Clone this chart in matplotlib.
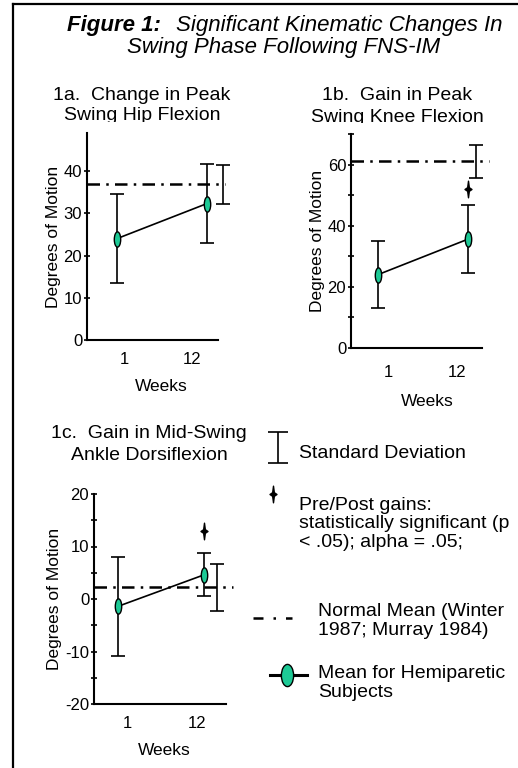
import matplotlib
matplotlib.use("Agg")
import matplotlib.pyplot as plt
from matplotlib.lines import Line2D
from matplotlib.path import Path
from matplotlib.transforms import Affine2D, Bbox, TransformedBbox

plt.rcParams['font.family'] = ['Liberation Sans', 'DejaVu Sans']

# 数据
weeks = ["1", "12"]

hip_mean = [24.0, 32.3]
hip_sd = [10.5, 9.3]
hip_normal = 36.9
hip_normal_sd = 4.6
hip_sig = None

knee_mean = [24.0, 35.6]
knee_sd = [11.0, 11.2]
knee_normal = 61.1
knee_normal_sd = 5.35
knee_sig = 52.0

ankle_mean = [-1.4, 4.6]
ankle_sd = [9.4, 4.1]
ankle_normal = 2.2
ankle_normal_sd = 4.4
ankle_sig = 12.9

W, H = 518, 768
fig = plt.figure(figsize=(W / 100, H / 100), dpi=100)

GREEN = '#1DC995'
DASHDOT = (0, (5, 2.5, 1, 2.5))
ellipse = Path.unit_circle().transformed(Affine2D().scale(0.42, 1.0))
ellipse_big = Path.unit_circle().transformed(Affine2D().scale(0.55, 1.0))
star = Path([(0, 1), (0.1, 0.22), (0.42, 0), (0.1, -0.22), (0, -1),
             (-0.1, -0.22), (-0.42, 0), (-0.1, 0.22), (0, 1)],
            [Path.MOVETO] + [Path.LINETO] * 7 + [Path.CLOSEPOLY])


def px_axes(l, t, r, b):
    return fig.add_axes([l / W, 1 - b / H, (r - l) / W, (b - t) / H])


def panel(ax, mean, sd, normal, normal_sd, sig, ylim, ticks, labels, minor,
          xlim, tickpos, sdpos):
    x = [0, 1]
    ax.plot(x, mean, color='black', lw=1.2, zorder=3)
    ax.errorbar(x, mean, yerr=sd, fmt='none', ecolor='black', elinewidth=1.2,
                capsize=5, capthick=1.2, zorder=2, clip_on=False)
    ax.plot(x, mean, ls='none', marker=ellipse, ms=11, mfc=GREEN, mec='black',
            mew=1.0, zorder=4, clip_on=False)
    ax.axhline(normal, xmin=0, xmax=1.05, color='black', lw=1.8,
               ls=DASHDOT, clip_on=False, zorder=1)
    ax.errorbar([sdpos], [normal], yerr=[normal_sd], fmt='none', ecolor='black',
                elinewidth=1.2, capsize=5, capthick=1.2, clip_on=False)
    if sig is not None:
        ax.plot([1], [sig], ls='none', marker=star, ms=12, color='black',
                clip_on=False)
    ax.set_xlim(*xlim)
    ax.set_ylim(*ylim)
    ax.set_xticks(tickpos)
    ax.set_xticklabels(weeks)
    ax.set_yticks(ticks)
    ax.set_yticklabels(labels)
    if minor:
        ax.set_yticks(minor, minor=True)
    for s in ['top', 'right']:
        ax.spines[s].set_visible(False)
    ax.spines['left'].set_linewidth(1.5)
    ax.spines['bottom'].set_linewidth(1.5)
    ax.tick_params(axis='x', length=0, labelsize=12, pad=9)
    ax.tick_params(axis='y', which='both', direction='inout', length=5,
                   width=1.2, labelsize=12, pad=1)
    ax.set_ylabel('Degrees of Motion', fontsize=12.5, labelpad=2)
    ax.set_xlabel('Weeks', fontsize=12.5, labelpad=8)


# 1a
ax1 = px_axes(87, 133, 218, 340)
panel(ax1, hip_mean, hip_sd, hip_normal, hip_normal_sd, hip_sig,
      (0, 49), [0, 10, 20, 30, 40], ['0', '10', '20', '30', '40'], None,
      (-0.333, 1.122), [0.08, 0.83], 1.178)
ax1.xaxis.label.set_position((0.57, 0))

# 1b
ax2 = px_axes(351, 134, 482, 348)
panel(ax2, knee_mean, knee_sd, knee_normal, knee_normal_sd, knee_sig,
      (0, 70), [0, 20, 40, 60], ['0', '20', '40', '60'], [10, 30, 50, 70],
      (-0.3, 1.156), [0.11, 0.88], 1.089)
ax2.tick_params(axis='x', pad=12.5)
ax2.xaxis.labelpad = 9.5
ax2.xaxis.label.set_position((0.58, 0))

# 1c
ax3 = px_axes(94, 494, 226, 704)
panel(ax3, ankle_mean, ankle_sd, ankle_normal, ankle_normal_sd, ankle_sig,
      (-20, 20), [-20, -10, 0, 10, 20], ['-20', '-10', '0', '10', '20'],
      [-15, -5, 5, 15], (-0.279, 1.256), [0.105, 0.919], 1.151)
ax3.xaxis.label.set_position((0.53, 0))

# 标题
t1 = fig.text(67 / W, 1 - 25 / H, 'Figure 1:', fontsize=16, fontweight='bold',
              style='italic', ha='left', va='center')
fig.canvas.draw()
x_end = t1.get_window_extent().x1
fig.text((x_end + 15) / W, 1 - 25 / H, 'Significant Kinematic Changes In',
         fontsize=16, style='italic', ha='left', va='center')
fig.text(284 / W, 1 - 48 / H, 'Swing Phase Following FNS-IM', fontsize=16,
         style='italic', ha='center', va='center')


def sub(x, y1, y2, a, b, clip=None):
    fig.text(x / W, 1 - y1 / H, a, fontsize=14, ha='center', va='center')
    t = fig.text(x / W, 1 - y2 / H, b, fontsize=14, ha='center', va='center')
    if clip:
        t.set_clip_on(True)
        t.set_clip_box(TransformedBbox(Bbox.from_extents(0, 1 - clip / H, 1, 1),
                                       fig.transFigure))


sub(142, 95, 116, '1a.  Change in Peak', 'Swing Hip Flexion', clip=122)
sub(397, 95, 117, '1b.  Gain in Peak', 'Swing Knee Flexion', clip=123)
sub(149, 433, 455, '1c.  Gain in Mid-Swing', 'Ankle Dorsiflexion')

# 图例（像素坐标）
lg = fig.add_axes([0, 0, 1, 1])
lg.set_xlim(0, W)
lg.set_ylim(H, 0)
lg.axis('off')
lg.errorbar([278], [447.5], yerr=[15.5], fmt='none', ecolor='black',
            elinewidth=1.2, capsize=7, capthick=1.2)
lg.text(299, 454, 'Standard Deviation', fontsize=14, va='center')
lg.plot([273], [494], marker=star, ms=12, color='black', ls='none')
lg.text(299, 524, 'Pre/Post gains:\nstatistically significant (p\n< .05); alpha = .05;',
        fontsize=14, va='center', linespacing=1.1)
lg.plot([253, 292], [618, 618], color='black', lw=1.8, ls=(0, (4, 4, 1, 4)))
lg.text(318, 621, 'Normal Mean (Winter\n1987; Murray 1984)', fontsize=14,
        va='center', linespacing=1.1)
lg.plot([270, 307], [675, 675], color='black', lw=2.2)
lg.plot([287], [675], marker=ellipse_big, ms=16, mfc=GREEN, mec='black',
        mew=1.0, ls='none')
lg.text(318, 683, 'Mean for Hemiparetic\nSubjects', fontsize=14, va='center',
        linespacing=1.1)

# 边框
fig.add_artist(Line2D([13 / W, 13 / W], [0, 1 - 4 / H], color='black', lw=1.6))
fig.add_artist(Line2D([13 / W, 1], [1 - 4 / H, 1 - 4 / H], color='black', lw=1.6))

fig.savefig('out.png', dpi=100)
